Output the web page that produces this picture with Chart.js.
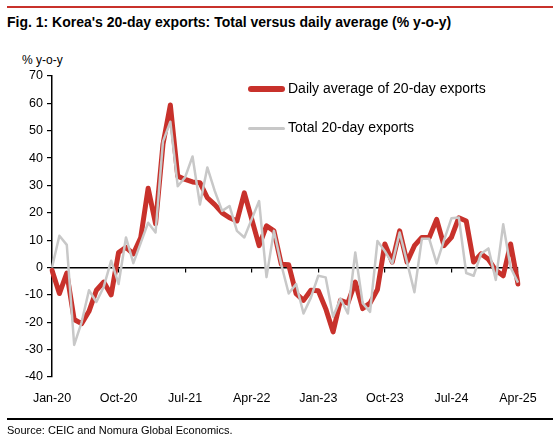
<!DOCTYPE html>
<html>
<head>
<meta charset="utf-8">
<script src="https://cdn.jsdelivr.net/npm/chart.js@4.4.1/dist/chart.umd.min.js"></script>
<style>
  body { margin: 0; background: #fff; font-family: Arial, "Liberation Sans", sans-serif; }
  #wrap { position: relative; width: 559px; height: 439px; overflow: hidden; }
  #chart { position: absolute; left: 0; top: 0; }
  .topline { position: absolute; left: 7px; top: 6px; width: 546px; height: 2px; background: #c8312b; }
  .title { position: absolute; left: 7px; top: 14px; font-size: 14px; font-weight: bold; color: #000; white-space: nowrap; }
  .unit { position: absolute; left: 22px; top: 53px; font-size: 12px; color: #000; }
  .legend { position: absolute; left: 248px; font-size: 14px; color: #000; white-space: nowrap; }
  .legend span { display: inline-block; width: 37px; vertical-align: middle; margin-right: 3px; border-radius: 3px; }
  .bottomline { position: absolute; left: 7px; top: 418px; width: 546px; height: 2px; background: #000; }
  .source { position: absolute; left: 7px; top: 424px; font-size: 11px; color: #000; }
</style>
</head>
<body>
<div id="wrap">
  <div class="topline"></div>
  <div class="title">Fig. 1: Korea's 20-day exports: Total versus daily average (% y-o-y)</div>
  <div class="unit">% y-o-y</div>
  <canvas id="chart" width="559" height="439"></canvas>
  <div class="legend" style="top:80px"><span style="height:6px;background:#c8312b"></span>Daily average of 20-day exports</div>
  <div class="legend" style="top:119px"><span style="height:3px;background:#c8c8c8"></span>Total 20-day exports</div>
  <div class="bottomline"></div>
  <div class="source">Source: CEIC and Nomura Global Economics.</div>
</div>
<script>
const months = ["Jan", "Feb", "Mar", "Apr", "May", "Jun", "Jul", "Aug", "Sep", "Oct", "Nov", "Dec"];
const labels = [];
for (let y = 20; y <= 25; y++) {
  months.forEach((m, i) => {
    if (y === 25 && i > 3) return;
    labels.push(m + "-" + y);
  });
}

const dailyAvg = [
  -1, -9.5, -2, -19, -20.5, -16, -8.3, -5.3, -10, 5.5, 7.4, 5,
  11, 29, 16, 45, 59.4, 33.4, 32.2, 31.3, 31, 25.5, 23, 20,
  18.2, 17, 27.3, 17.7, 8, 15.2, 13.4, 1.2, 1, -9.5, -12, -8.3,
  -8.5, -15, -23.5, -12, -13, -5.3, -15, -13, -8, 8.6, 2, 13.4,
  2, 8, 11, 11, 17.6, 8, 11, 18.2, 17, 2, 5, 3,
  -1, -3, 8.6, -6
];

const total20 = [
  0, 11.6, 8.3, -28.3, -20, -8.3, -12.6, -7, 2.5, -6, 11, 1.6,
  9, 16.4, 12.8, 46, 53.3, 29.7, 33, 40.6, 23, 36.6, 28, 20.7,
  22.5, 13.4, 11, 17.7, 24.3, -3.5, 13.4, 1, -9.5, -6, -16.8, -11,
  -3, -3.6, -18, -11.3, -16.8, 5.5, -13, -16.2, 9.7, 6, 1.5, 12.8,
  2, -9, 10.5, 10.5, 1.5, 10, 18, 18.3, -2, -3, 5, 7,
  -4.5, 15.8, 0, -5.5
];

const RED = "#c8312b";
const GREY = "#c8c8c8";
const tickFont = { family: "Arial, 'Liberation Sans', sans-serif", size: 12.5 };

const ctx = document.getElementById("chart").getContext("2d");
new Chart(ctx, {
  type: "line",
  data: {
    labels: labels,
    datasets: [
      {
        label: "Daily average of 20-day exports",
        data: dailyAvg,
        borderColor: RED,
        borderWidth: 5,
        borderJoinStyle: "round",
        borderCapStyle: "round",
        pointRadius: 0,
        tension: 0,
        order: 2,
      },
      {
        label: "Total 20-day exports",
        data: total20,
        borderColor: GREY,
        borderWidth: 2.5,
        borderJoinStyle: "round",
        pointRadius: 0,
        tension: 0,
        order: 1,
      },
    ],
  },
  options: {
    animation: false,
    responsive: false,
    layout: { padding: { top: 76, right: 41, bottom: 32, left: 0 } },
    scales: {
      x: {
        type: "category",
        offset: false,
        position: "bottom",
        border: { display: false },
        grid: { display: false },
        ticks: {
          autoSkip: false,
          maxRotation: 0,
          color: "#000",
          font: tickFont,
          padding: 6,
          callback: (v, i) => (i % 9 === 0 ? labels[i] : ""),
        },
        afterFit: (scale) => { scale.height = 30; },
      },
      x0: {
        type: "category",
        labels: labels,
        offset: false,
        position: { y: 0 },
        border: { display: true, color: "#000", width: 1.5 },
        grid: {
          drawOnChartArea: false,
          tickLength: 4,
          color: (c) => (c.index % 9 === 0 && c.index > 0 ? "#000" : "rgba(0,0,0,0)"),
          lineWidth: 1.2,
        },
        ticks: { display: false, autoSkip: false },
      },
      y: {
        min: -40,
        max: 70,
        border: { display: true, color: "#000", width: 1.5 },
        grid: { drawOnChartArea: false, tickLength: 5, color: "#000", lineWidth: 1.2 },
        ticks: { stepSize: 10, color: "#000", font: tickFont, padding: 4 },
        afterFit: (scale) => { scale.width = 52; },
      },
    },
    plugins: {
      legend: { display: false },
      tooltip: { enabled: false },
    },
  },
});
</script>
</body>
</html>
